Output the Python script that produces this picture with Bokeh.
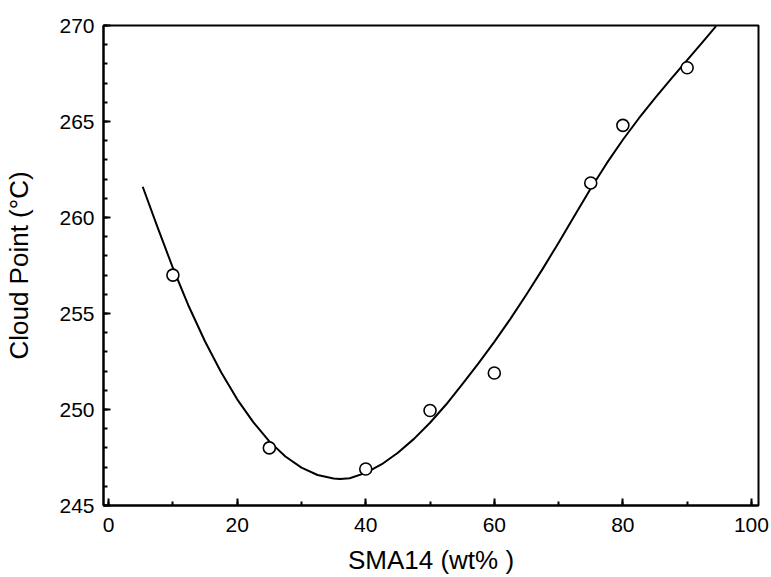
from bokeh.plotting import figure
from bokeh.models import Range1d, FixedTicker
from bokeh.embed import file_html
from bokeh.resources import INLINE

# measured data points
sma14_wt = [10, 25, 40, 50, 60, 75, 80, 90]
cloud_point = [257.0, 248.0, 246.9, 249.95, 251.9, 261.8, 264.8, 267.8]

# fitted curve
curve_x = [5.3, 7.5, 10, 12.5, 15, 17.5, 20, 22.5, 25, 27.5, 30, 32.5, 35, 36,
           37.5, 40, 42.5, 45, 47.5, 50, 52.5, 55, 57.5, 60, 62.5, 65, 67.5,
           70, 72.5, 75, 77.5, 80, 82.5, 85, 87.5, 90, 92.5, 94.5]
curve_y = [261.6, 259.59, 257.37, 255.35, 253.54, 251.94, 250.53, 249.34,
           248.34, 247.55, 246.97, 246.59, 246.41, 246.38, 246.42, 246.70,
           247.15, 247.75, 248.47, 249.31, 250.26, 251.31, 252.39, 253.52,
           254.72, 255.99, 257.31, 258.69, 260.11, 261.51, 262.83, 264.05,
           265.17, 266.22, 267.22, 268.2, 269.17, 269.97]

x_ticks = [0, 20, 40, 60, 80, 100]
y_ticks = [245, 250, 255, 260, 265, 270]

FONT = "Liberation Sans"

p = figure(width=771, height=577, output_backend="svg", toolbar_location=None,
           x_range=Range1d(-0.8, 101.1), y_range=Range1d(245, 270),
           min_border_left=103, min_border_right=13, min_border_top=25,
           min_border_bottom=72)

p.line(curve_x, curve_y, line_color="black", line_width=2, line_join="round")
p.scatter(sma14_wt, cloud_point, marker="circle", size=12, fill_color="white",
          line_color="black", line_width=1.6)

p.grid.visible = False
p.outline_line_color = "black"
p.outline_line_width = 2
p.background_fill_color = "white"
p.border_fill_color = "white"

p.xaxis.ticker = FixedTicker(ticks=x_ticks, minor_ticks=list(range(0, 101, 10)))
p.yaxis.ticker = FixedTicker(ticks=y_ticks, minor_ticks=list(range(245, 271, 1)))

for ax in (p.xaxis[0], p.yaxis[0]):
    ax.axis_line_width = 2
    ax.axis_line_color = "black"
    ax.major_tick_in = 7
    ax.major_tick_out = 0
    ax.minor_tick_in = 4
    ax.minor_tick_out = 0
    ax.major_tick_line_width = 2
    ax.minor_tick_line_width = 2
    ax.major_label_text_font = FONT
    ax.major_label_text_font_size = "21px"
    ax.major_label_text_color = "black"
    ax.axis_label_text_font = FONT
    ax.axis_label_text_font_size = "26px"
    ax.axis_label_text_font_style = "normal"
    ax.axis_label_text_color = "black"

p.xaxis.axis_label = "SMA14 (wt% )"
p.yaxis.axis_label = "Cloud Point (°C)"
p.xaxis.major_label_standoff = 12
p.yaxis.major_label_standoff = 9
p.xaxis.axis_label_standoff = 10
p.yaxis.axis_label_standoff = 22

open("out.html", "w").write(file_html(p, INLINE))
